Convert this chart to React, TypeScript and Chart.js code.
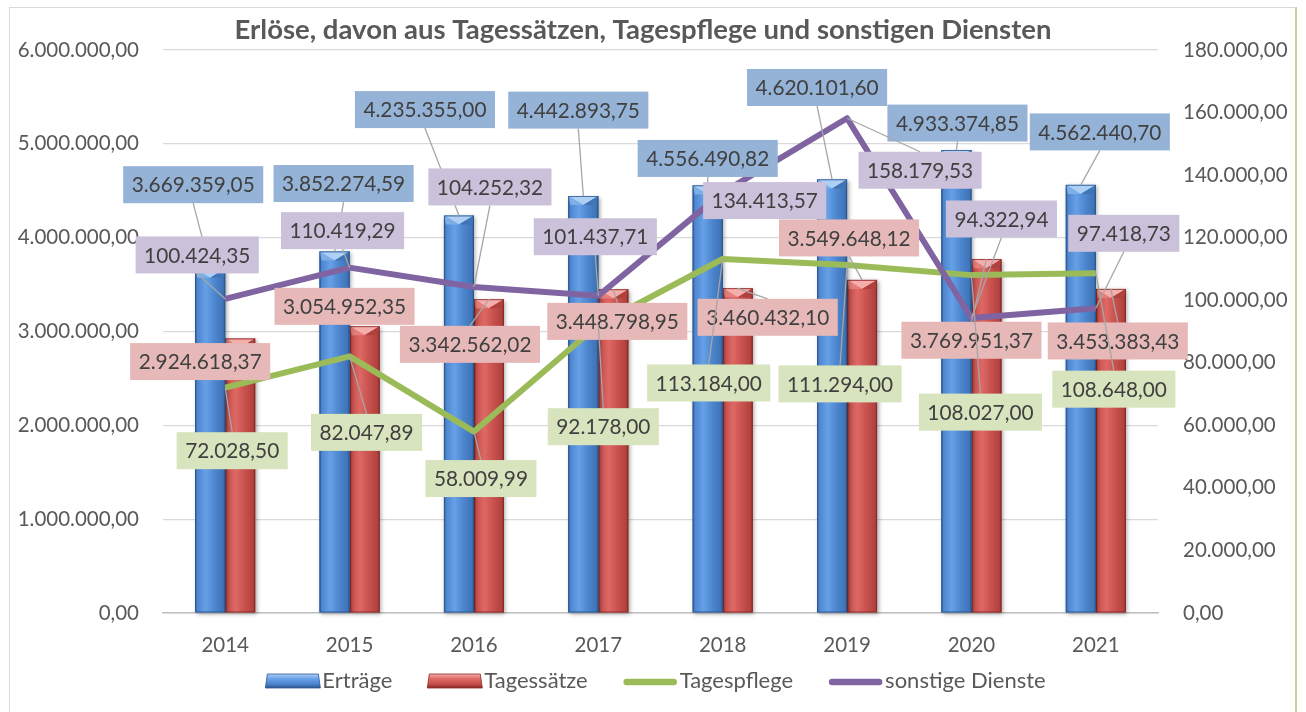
import React, { useEffect, useRef } from "react";
import { Chart, registerables } from "chart.js";

Chart.register(...registerables);

// ---------- data ----------
const categories = ["2014", "2015", "2016", "2017", "2018", "2019", "2020", "2021"];
const ertraege = [3669359.05, 3852274.59, 4235355.0, 4442893.75, 4556490.82, 4620101.6, 4933374.85, 4562440.7];
const tagessaetze = [2924618.37, 3054952.35, 3342562.02, 3448798.95, 3460432.1, 3549648.12, 3769951.37, 3453383.43];
const tagespflege = [72028.5, 82047.89, 58009.99, 92178.0, 113184.0, 111294.0, 108027.0, 108648.0];
const sonstigeDienste = [100424.35, 110419.29, 104252.32, 101437.71, 134413.57, 158179.53, 94322.94, 97418.73];
const seriesNames = ["Erträge", "Tagessätze", "Tagespflege", "sonstige Dienste"];
const titleText = "Erlöse, davon aus Tagessätzen, Tagespflege und sonstigen Diensten";
const leftAxisMax = 6000000;
const leftAxisStep = 1000000;
const rightAxisMax = 180000;
const rightAxisStep = 20000;

// ---------- label placement (offset of label box centre from its point) ----------
const ertraegeLabelOffsets = [[-17, -84], [9, -68], [-34, -106], [-5, -86], [0, -27], [-15, -92], [1, -27], [19, -53]];
const tagessaetzeLabelOffsets = [[-40, 23], [-20, -20], [-19, 45], [4, 32], [30, 29], [-13, -42], [-15, 81], [7, 52]];
const tagespflegeLabelOffsets = [[7, 63], [17, 76], [7, 47], [5, 102], [-14, 124], [-7, 119], [9, 137], [18, 116]];
const sonstigeLabelOffsets = [[-28, -44], [-7, -37], [16, -100], [-3, -59], [42, 8], [73, 52], [30, -99], [28, -75]];

// ---------- styles ----------
const FONT = "Lato, 'Open Sans', 'Liberation Sans', sans-serif";
const TEXT = "#595959";
const LABEL_TEXT = "#404040";
const GREEN = "#9BBB59";
const PURPLE = "#8064A2";
const labelBg = ["#95B3D7", "#E6B9B8", "#D7E4BD", "#CCC1DA"];
const barPalettes: Record<number, any> = {
  0: { dark: "#2B5690", body: "#4D86CF", light: "#66A0E6", shade: "#3F74B6", cap: "#AED0F5", capSide: "#7DAEE8" },
  1: { dark: "#8A2A27", body: "#C9514D", light: "#DD6864", shade: "#B0423E", cap: "#F5AEAC", capSide: "#E47F7C" },
};

function fmt(v: number): string {
  const [i, d] = Math.abs(v).toFixed(2).split(".");
  const ip = i.replace(/\B(?=(\d{3})+(?!\d))/g, ".");
  return (v < 0 ? "-" : "") + ip + "," + d;
}

const bevelBarPlugin = {
  id: "bevelBars",
  afterDatasetDraw(chart: any, args: any) {
    const meta = args.meta;
    if (meta.type !== "bar") return;
    const pal = barPalettes[args.index];
    const ctx = chart.ctx;
    meta.data.forEach((el: any) => {
      const { x, y, base, width } = el.getProps(["x", "y", "base", "width"], true);
      const l = x - width / 2;
      const r = x + width / 2;
      const t = Math.min(y, base);
      const b = Math.max(y, base);
      const h = b - t;
      ctx.save();
      ctx.shadowColor = "rgba(0,0,0,0.35)";
      ctx.shadowBlur = 4;
      ctx.shadowOffsetX = 1.5;
      ctx.shadowOffsetY = 1.5;
      ctx.fillStyle = pal.body;
      ctx.fillRect(l, t, width, h);
      ctx.restore();
      ctx.save();
      const g = ctx.createLinearGradient(l, 0, r, 0);
      g.addColorStop(0, pal.dark);
      g.addColorStop(0.07, pal.body);
      g.addColorStop(0.35, pal.light);
      g.addColorStop(0.65, pal.body);
      g.addColorStop(0.93, pal.shade);
      g.addColorStop(1, pal.dark);
      ctx.fillStyle = g;
      ctx.fillRect(l, t, width, h);
      const bh = Math.min(9, h);
      ctx.beginPath();
      ctx.moveTo(l, t);
      ctx.lineTo(r, t);
      ctx.lineTo(x, t + bh);
      ctx.closePath();
      ctx.fillStyle = pal.cap;
      ctx.fill();
      ctx.beginPath();
      ctx.moveTo(l, t);
      ctx.lineTo(x, t + bh);
      ctx.lineTo(l + 2, t + bh);
      ctx.closePath();
      ctx.fillStyle = pal.capSide;
      ctx.fill();
      ctx.beginPath();
      ctx.moveTo(r, t);
      ctx.lineTo(x, t + bh);
      ctx.lineTo(r - 2, t + bh);
      ctx.closePath();
      ctx.fillStyle = pal.shade;
      ctx.fill();
      ctx.strokeStyle = pal.dark;
      ctx.lineWidth = 0.8;
      ctx.strokeRect(l + 0.4, t + 0.4, width - 0.8, h - 0.8);
      ctx.restore();
    });
  },
};

const allOffsets = [ertraegeLabelOffsets, tagessaetzeLabelOffsets, tagespflegeLabelOffsets, sonstigeLabelOffsets];

const boxLabelPlugin = {
  id: "boxLabels",
  afterDatasetsDraw(chart: any) {
    const ctx = chart.ctx;
    ctx.save();
    ctx.font = `20.8px ${FONT}`;
    const padX = 8.5;
    const boxH = 37;
    chart.data.datasets.forEach((ds: any, di: number) => {
      const meta = chart.getDatasetMeta(di);
      const offs = allOffsets[di];
      meta.data.forEach((el: any, i: number) => {
        const ax = el.x;
        const ay = el.y;
        const [dx, dy] = offs[i];
        const text = fmt(ds.data[i]);
        const w = ctx.measureText(text).width + padX * 2;
        const cx = ax + dx;
        const cy = ay + dy;
        const l = cx - w / 2;
        const t = cy - boxH / 2;
        const r = l + w;
        const b = t + boxH;
        const m = 5;
        const inside = ax > l - m && ax < r + m && ay > t - m && ay < b + m;
        if (!inside) {
          let ex: number, ey: number;
          if (ay < t) { ex = cx; ey = t; }
          else if (ay > b) { ex = cx; ey = b; }
          else { ex = ax < l ? l : r; ey = cy; }
          ctx.beginPath();
          ctx.moveTo(ex, ey);
          ctx.lineTo(ax, ay);
          ctx.strokeStyle = "#A6A6A6";
          ctx.lineWidth = 1.3;
          ctx.stroke();
        }
        ctx.fillStyle = labelBg[di];
        ctx.fillRect(l, t, w, boxH);
        ctx.fillStyle = LABEL_TEXT;
        ctx.textAlign = "center";
        ctx.textBaseline = "middle";
        ctx.fillText(text, cx, cy + 1);
      });
    });
    ctx.restore();
  },
};

const decorPlugin = {
  id: "decor",
  beforeDraw(chart: any) {
    const ctx = chart.ctx;
    ctx.save();
    ctx.fillStyle = "#FFFFFF";
    ctx.fillRect(0, 0, chart.width, chart.height);
    ctx.strokeStyle = "#D9D9D9";
    ctx.lineWidth = 1;
    ctx.strokeRect(9.5, 7.5, 1286, 720);
    ctx.strokeStyle = "#C3D69B";
    ctx.lineWidth = 2;
    ctx.beginPath();
    ctx.moveTo(1296, 7);
    ctx.lineTo(1296, 712);
    ctx.stroke();
    ctx.restore();
  },
  afterDraw(chart: any) {
    const ctx = chart.ctx;
    ctx.save();
    ctx.font = `bold 27.5px ${FONT}`;
    ctx.fillStyle = TEXT;
    ctx.textAlign = "center";
    ctx.textBaseline = "middle";
    ctx.fillText(titleText, 643, 30);
    ctx.font = `22px ${FONT}`;
    const markerW = 55;
    const textGap = 2;
    const gap = 35;
    const widths = seriesNames.map((n) => markerW + textGap + ctx.measureText(n).width);
    const total = widths.reduce((a, b) => a + b, 0) + gap * (seriesNames.length - 1);
    let x = 655.5 - total / 2;
    const yc = 681;
    seriesNames.forEach((name, i) => {
      if (i < 2) {
        const pal = barPalettes[i];
        const g = ctx.createLinearGradient(0, yc - 7, 0, yc + 7);
        g.addColorStop(0, pal.cap);
        g.addColorStop(0.35, pal.light);
        g.addColorStop(0.7, pal.body);
        g.addColorStop(1, pal.dark);
        ctx.fillStyle = g;
        ctx.beginPath();
        ctx.moveTo(x + 2, yc - 7);
        ctx.lineTo(x + markerW - 2, yc - 7);
        ctx.lineTo(x + markerW, yc + 7);
        ctx.lineTo(x, yc + 7);
        ctx.closePath();
        ctx.fill();
        ctx.strokeStyle = pal.dark;
        ctx.lineWidth = 0.8;
        ctx.stroke();
      } else {
        ctx.strokeStyle = i === 2 ? GREEN : PURPLE;
        ctx.lineWidth = 6.5;
        ctx.lineCap = "round";
        ctx.beginPath();
        ctx.moveTo(x + 4, yc + 1);
        ctx.lineTo(x + markerW - 4, yc + 1);
        ctx.stroke();
      }
      ctx.fillStyle = TEXT;
      ctx.textAlign = "left";
      ctx.textBaseline = "middle";
      ctx.fillText(name, x + markerW + textGap, yc);
      x += widths[i] + gap;
    });
    ctx.restore();
  },
};

export default function App() {
  const ref = useRef<HTMLCanvasElement | null>(null);
  useEffect(() => {
    if (!ref.current) return;
    const tickFont = { family: FONT, size: 20.5 };
    const chart = new Chart(ref.current, {
      type: "bar",
      data: {
        labels: categories,
        datasets: [
          { type: "bar", label: seriesNames[0], data: ertraege, yAxisID: "y", backgroundColor: "rgba(0,0,0,0)", borderWidth: 0, order: 2, categoryPercentage: 0.482, barPercentage: 1 },
          { type: "bar", label: seriesNames[1], data: tagessaetze, yAxisID: "y", backgroundColor: "rgba(0,0,0,0)", borderWidth: 0, order: 2, categoryPercentage: 0.482, barPercentage: 1 },
          { type: "line", label: seriesNames[2], data: tagespflege, yAxisID: "y1", borderColor: GREEN, borderWidth: 6, pointRadius: 0, tension: 0, borderJoinStyle: "round", order: 1 },
          { type: "line", label: seriesNames[3], data: sonstigeDienste, yAxisID: "y1", borderColor: PURPLE, borderWidth: 6, pointRadius: 0, tension: 0, borderJoinStyle: "round", order: 0 },
        ] as any,
      },
      options: {
        responsive: false,
        animation: false,
        devicePixelRatio: 1,
        layout: { padding: { top: 50, left: 0, right: 0, bottom: 0 } },
        plugins: { legend: { display: false }, title: { display: false }, tooltip: { enabled: false } },
        scales: {
          x: {
            offset: true,
            grid: { display: false, drawTicks: false },
            border: { display: true, color: "#BFBFBF", width: 1.5 },
            ticks: { color: TEXT, font: tickFont, padding: 20 },
            afterFit: (s: any) => { s.height = 99; },
          },
          y: {
            position: "left",
            min: 0,
            max: leftAxisMax,
            ticks: { stepSize: leftAxisStep, color: TEXT, font: tickFont, padding: 24, callback: (v: any) => fmt(Number(v)) },
            grid: { color: "#D9D9D9", lineWidth: 1.3, drawTicks: false },
            border: { display: false },
            afterFit: (s: any) => { s.width = 163; },
          },
          y1: {
            position: "right",
            min: 0,
            max: rightAxisMax,
            ticks: { stepSize: rightAxisStep, color: TEXT, font: tickFont, padding: 25, callback: (v: any) => fmt(Number(v)) },
            grid: { display: false, drawTicks: false },
            border: { display: false },
            afterFit: (s: any) => { s.width = 148; },
          },
        },
      } as any,
      plugins: [decorPlugin, bevelBarPlugin, boxLabelPlugin],
    });
    return () => chart.destroy();
  }, []);
  return (
    <div style={{ position: "absolute", left: 0, top: 0, width: 1306, height: 712 }}>
      <canvas ref={ref} width={1306} height={712} style={{ display: "block" }} />
    </div>
  );
}
